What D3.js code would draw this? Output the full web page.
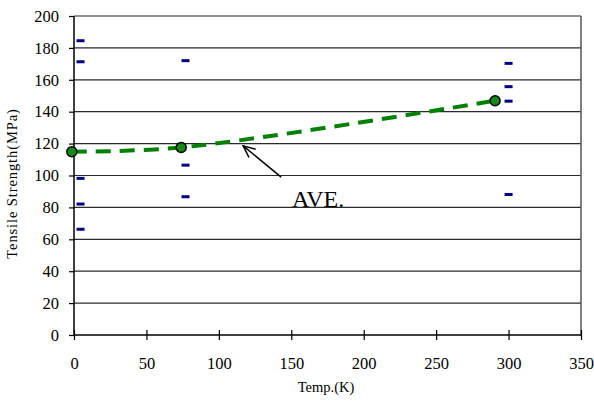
<!DOCTYPE html>
<html>
<head>
<meta charset="utf-8">
<script src="https://cdn.jsdelivr.net/npm/d3@7"></script>
<style>
  body { margin: 0; background: #fff; }
  svg text { font-family: "Liberation Serif", "Times New Roman", serif; fill: #000; }
</style>
</head>
<body>
<svg id="chart" width="594" height="401"></svg>
<script>
// individual test results (temperature K, tensile strength MPa)
const testTemp = [4.5, 4.5, 4.5, 4.5, 4.5, 77, 77, 77, 300, 300, 300, 300];
const testStrength = [184.5, 171.3, 98.2, 82.1, 66.3, 172, 106.5, 86.7, 170.3, 155.7, 146.6, 88.1];

// average series
const aveTemp = [-1.5, 74, 290.7];
const aveStrength = [114.9, 117.6, 146.9];

// ticks
const xTicks = [0, 50, 100, 150, 200, 250, 300, 350];
const yTicks = [0, 20, 40, 60, 80, 100, 120, 140, 160, 180, 200];

// annotation (data units): arrow tail, arrow tip, label
const arrowFrom = [143, 99];
const arrowTo = [116.8, 118.6];
const labelAt = [150.5, 80.3];
const labelText = "AVE.";

// margins
const margin = {top: 16, right: 13, bottom: 66, left: 74};
const svgContainer = d3.select("#chart");
const width = 594 - margin.left - margin.right;
const height = 401 - margin.top - margin.bottom;

const svg = svgContainer.append("g")
    .attr("transform", `translate(${margin.left},${margin.top})`);

// scales
const xScale = d3.scaleLinear().domain([0, 350]).range([0, width]);
const yScale = d3.scaleLinear().domain([0, 200]).range([height, 0]);

// horizontal gridlines
svg.append("g")
    .selectAll("line")
    .data(yTicks.filter(d => d > 0))
    .enter()
    .append("line")
    .attr("x1", 0)
    .attr("x2", width)
    .attr("y1", d => yScale(d))
    .attr("y2", d => yScale(d))
    .attr("stroke", "#2a2a2a")
    .attr("stroke-width", 1.2);

// right border
svg.append("line")
    .attr("x1", width).attr("x2", width)
    .attr("y1", 0).attr("y2", height)
    .attr("stroke", "#555")
    .attr("stroke-width", 1.5);

// axes
const xAxis = svg.append("g")
    .attr("transform", `translate(0, ${height})`)
    .call(d3.axisBottom(xScale).tickValues(xTicks).tickSize(5).tickPadding(17));
xAxis.selectAll(".tick line").attr("y1", -5).attr("y2", 5);

const yAxis = svg.append("g")
    .call(d3.axisLeft(yScale).tickValues(yTicks).tickSize(5).tickPadding(10));

[xAxis, yAxis].forEach(ax => {
    ax.attr("font-family", null);
    ax.select(".domain").attr("stroke", "#000").attr("stroke-width", 1.5);
    ax.selectAll(".tick line").attr("stroke", "#000").attr("stroke-width", 1.2);
    ax.selectAll(".tick text")
        .style("font-family", "'Liberation Serif', 'Times New Roman', serif")
        .style("font-size", "16.5px");
});
xAxis.select(".domain").attr("d", `M0,0H${width}`);
yAxis.select(".domain").attr("d", `M0,${height}V0`);

// axis labels
svg.append("text")
    .attr("x", xScale(174))
    .attr("y", height + 57)
    .attr("text-anchor", "middle")
    .style("font-size", "14.5px")
    .text("Temp.(K)");

svg.append("text")
    .attr("transform", "rotate(-90)")
    .attr("x", -yScale(95))
    .attr("y", -57)
    .attr("text-anchor", "middle")
    .style("font-size", "14.5px")
    .attr("letter-spacing", "0.9px")
    .text("Tensile Strength(MPa)");

// individual results as short dashes
svg.append("g")
    .selectAll("rect")
    .data(testTemp.map((t, i) => ({t: t, s: testStrength[i]})))
    .enter()
    .append("rect")
    .attr("x", d => xScale(d.t) - 4)
    .attr("y", d => yScale(d.s) - 1.5)
    .attr("width", 8)
    .attr("height", 3)
    .attr("fill", "#000080");

// average line
const avePoints = aveTemp.map((t, i) => ({t: t, s: aveStrength[i]}));
const line = d3.line()
    .x(d => xScale(d.t))
    .y(d => yScale(d.s))
    .curve(d3.curveCatmullRom.alpha(0.5));

svg.append("path")
    .datum(avePoints)
    .attr("d", line)
    .attr("fill", "none")
    .attr("stroke", "#008000")
    .attr("stroke-width", 4)
    .attr("stroke-dasharray", "15,9");

svg.append("g")
    .selectAll("circle")
    .data(avePoints)
    .enter()
    .append("circle")
    .attr("cx", d => xScale(d.t))
    .attr("cy", d => yScale(d.s))
    .attr("r", 5)
    .attr("fill", "#138a13")
    .attr("stroke", "#000")
    .attr("stroke-width", 1.5);

// annotation arrow
const ax0 = xScale(arrowFrom[0]), ay0 = yScale(arrowFrom[1]);
const ax1 = xScale(arrowTo[0]), ay1 = yScale(arrowTo[1]);
const ang = Math.atan2(ay0 - ay1, ax0 - ax1);
const headLen = 13, headSpread = 0.42;
svg.append("line")
    .attr("x1", ax0).attr("y1", ay0)
    .attr("x2", ax1).attr("y2", ay1)
    .attr("stroke", "#000")
    .attr("stroke-width", 1.5);
svg.append("path")
    .attr("d", `M${ax1 + headLen * Math.cos(ang - headSpread)},${ay1 + headLen * Math.sin(ang - headSpread)}` +
               `L${ax1},${ay1}` +
               `L${ax1 + headLen * Math.cos(ang + headSpread)},${ay1 + headLen * Math.sin(ang + headSpread)}`)
    .attr("fill", "none")
    .attr("stroke", "#000")
    .attr("stroke-width", 1.5);

svg.append("text")
    .attr("x", xScale(labelAt[0]))
    .attr("y", yScale(labelAt[1]))
    .style("font-size", "24px")
    .text(labelText);
</script>
</body>
</html>
